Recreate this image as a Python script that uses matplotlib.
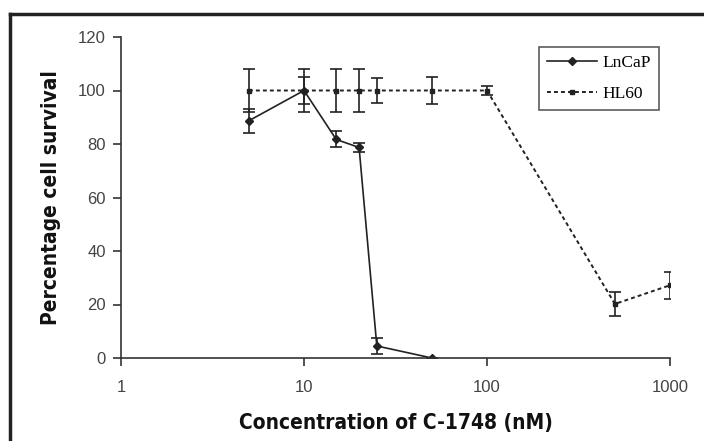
import matplotlib
matplotlib.use("Agg")
import matplotlib.pyplot as plt
from matplotlib.lines import Line2D

# data
conc_lncap = [5, 10, 15, 20, 25, 50]
surv_lncap = [88.7, 100, 81.7, 78.7, 4.5, 0]
err_lncap = [4.5, 5, 3, 1.8, 3, 0]

conc_hl60 = [5, 10, 15, 20, 25, 50, 100, 500, 1000]
surv_hl60 = [100, 100, 100, 100, 100, 100, 100, 20.2, 27.2]
err_hl60 = [8, 8, 8, 8, 4.5, 5, 1.8, 4.5, 5]

xticks = [1, 10, 100, 1000]
xticklabels = ["1", "10", "100", "1000"]
yticks = [0, 20, 40, 60, 80, 100, 120]

W, H = 704, 441
fig = plt.figure(figsize=(W / 100, H / 100), dpi=100)
ax = fig.add_axes([121 / W, 1 - 358 / H, (670 - 121) / W, (358 - 37) / H])

c = "#222222"
hl_ls = (0, (2, 1.6))
ax.errorbar(conc_lncap, surv_lncap, yerr=err_lncap, color=c, lw=1.2,
            marker="D", ms=4.2, capsize=4, elinewidth=1.2, capthick=1.2)
ax.errorbar(conc_hl60, surv_hl60, yerr=err_hl60, color=c, lw=1.4,
            linestyle=hl_ls, marker="s", ms=3.2, capsize=4,
            elinewidth=1.2, capthick=1.2)

ax.set_xscale("log")
ax.set_xlim(1, 1000)
ax.set_ylim(0, 120)
ax.set_xticks(xticks)
ax.set_xticklabels(xticklabels)
ax.minorticks_off()
ax.set_yticks(yticks)
for s in ["top", "right"]:
    ax.spines[s].set_visible(False)
for s in ["left", "bottom"]:
    ax.spines[s].set_color("#333333")
    ax.spines[s].set_linewidth(1.2)
ax.tick_params(axis="x", direction="out", length=6, width=1.2, color="#333333",
               labelsize=12, labelcolor="#444444", pad=10)
ax.tick_params(axis="y", direction="out", length=6, width=1.2, color="#333333",
               labelsize=12, labelcolor="#444444", pad=5)
for t in ax.get_xticklabels() + ax.get_yticklabels():
    t.set_family("Liberation Sans")

lblfont = dict(family="DejaVu Sans", stretch="condensed", weight="bold",
               size=15, color="#111111")
ax.set_xlabel("Concentration of C-1748 (nM)", labelpad=13, **lblfont)
ax.set_ylabel("Percentage cell survival", labelpad=12, **lblfont)

handles = [Line2D([], [], color=c, lw=1.2, marker="D", ms=4.2),
           Line2D([], [], color=c, lw=1.4, linestyle=hl_ls, marker="s", ms=3.2)]
leg = ax.legend(handles, ["LnCaP", "HL60"], loc="upper right",
                bbox_to_anchor=(0.98, 0.968),
                prop=dict(family="Liberation Serif", size=12.5),
                frameon=True, fancybox=False, edgecolor="#333333",
                handlelength=2.9, borderpad=0.45, labelspacing=0.85,
                handletextpad=0.3, borderaxespad=0)
leg.get_frame().set_linewidth(1.2)

# figure border (top and left)
fig.add_artist(Line2D([10 / W, 1], [1 - 14 / H, 1 - 14 / H], color="#222222", lw=2.5,
                      transform=fig.transFigure))
fig.add_artist(Line2D([10 / W, 10 / W], [0, 1 - 14 / H], color="#222222", lw=2.5,
                      transform=fig.transFigure))

fig.savefig("out.png", dpi=100)
